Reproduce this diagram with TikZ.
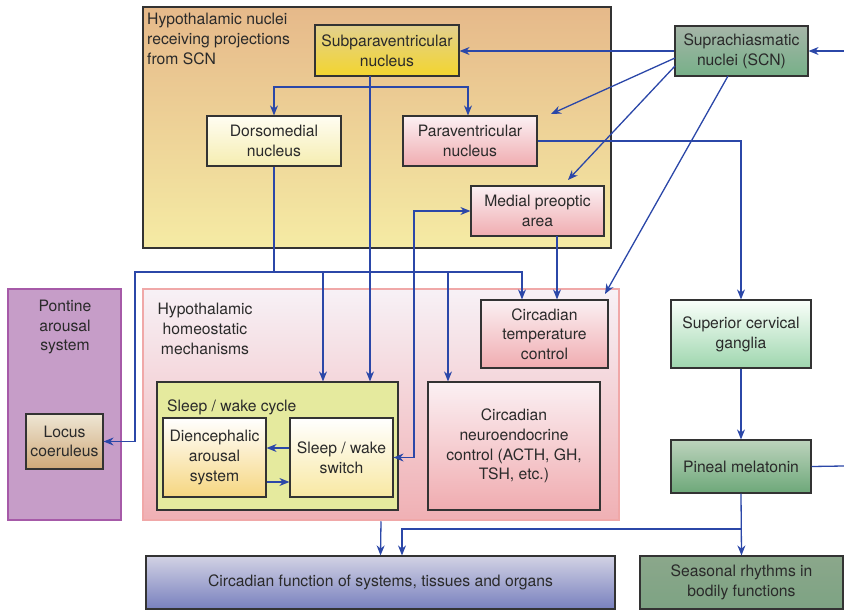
\documentclass[tikz,border=0pt]{standalone}
\usepackage{fontspec}
\setmainfont{TeX Gyre Heros}
\usetikzlibrary{arrows.meta}
\definecolor{txt}{HTML}{2A2A2A}
\definecolor{boxline}{HTML}{333333}
\definecolor{conn}{HTML}{2B47A8}
\definecolor{hypT}{HTML}{E6B98A}
\definecolor{hypB}{HTML}{F5EBA4}
\definecolor{spvT}{HTML}{E2D08E}
\definecolor{spvB}{HTML}{F3D52E}
\definecolor{dmnT}{HTML}{FFFDF2}
\definecolor{dmnB}{HTML}{F5EDB0}
\definecolor{pinkT}{HTML}{FBF0F3}
\definecolor{pinkB}{HTML}{F0ACB0}
\definecolor{scnT}{HTML}{A6B5A8}
\definecolor{scnB}{HTML}{76B088}
\definecolor{scgT}{HTML}{FAFFFA}
\definecolor{scgB}{HTML}{9ED6AE}
\definecolor{pinT}{HTML}{BDD3BD}
\definecolor{pinB}{HTML}{6DA879}
\definecolor{seaT}{HTML}{8BA78B}
\definecolor{seaB}{HTML}{7DA383}
\definecolor{cfT}{HTML}{D2D2E4}
\definecolor{cfB}{HTML}{7880BE}
\definecolor{lcT}{HTML}{EEE6D4}
\definecolor{lcB}{HTML}{CFA878}
\definecolor{dienB}{HTML}{F6D680}
\definecolor{swsB}{HTML}{F8E8A2}
\definecolor{swcF}{HTML}{E5EA9E}
\definecolor{pontF}{HTML}{C69DC8}
\definecolor{pontL}{HTML}{A65AA8}
\definecolor{homL}{HTML}{F0A8A8}
\definecolor{homT}{HTML}{F7F1F6}
\definecolor{homM}{HTML}{F6EAF0}
\definecolor{homB}{HTML}{F0B0B4}
\begin{document}
\begin{tikzpicture}[x=1pt,y=-1pt,
  font=\fontsize{15.7}{19.7}\selectfont,
  box/.style={draw=boxline, line width=1.2pt, text=txt, align=center, inner sep=0pt},
  lab/.style={text=txt, inner sep=0pt},
  arr/.style={draw=conn, line width=1.3pt, -{Stealth[length=10pt,width=8pt]}},
  arrboth/.style={draw=conn, line width=1.3pt, {Stealth[length=10pt,width=8pt]}-{Stealth[length=10pt,width=8pt]}},
  plain/.style={draw=conn, line width=1.3pt}]
\useasboundingbox (0,0) rectangle (844,610);

% containers
\node[box, minimum width=468pt, minimum height=241pt, top color=hypT, bottom color=hypB] (hyp) at (377,127.5) {};
\node[lab, anchor=north west, align=left] (hyplab) at (147,13) {Hypothalamic nuclei\\receiving projections\\from SCN};
\node[box, draw=pontL, line width=2.5pt, fill=pontF, minimum width=113pt, minimum height=231pt] (pont) at (64.5,404.5) {};
\node[lab, align=center] (pontlab) at (65,327) {Pontine\\arousal\\system};
\node[box, draw=homL, line width=2.5pt, top color=homT, middle color=homM, bottom color=homB, minimum width=476pt, minimum height=231pt] (hom) at (381,404.5) {};
\node[lab, align=center] (homlab) at (205,329) {Hypothalamic\\homeostatic\\mechanisms};
\node[box, fill=swcF, minimum width=241pt, minimum height=128pt] (swc) at (277.5,446) {};
\node[lab, anchor=west] (swclab) at (167,407) {Sleep / wake cycle};

% nodes
\node[box, minimum width=144pt, minimum height=51pt, top color=spvT, bottom color=spvB] (spv) at (387,50.5) {Subparaventricular\\nucleus};
\node[box, minimum width=134pt, minimum height=50pt, top color=dmnT, bottom color=dmnB] (dmn) at (274,141) {Dorsomedial\\nucleus};
\node[box, minimum width=134pt, minimum height=50pt, top color=pinkT, bottom color=pinkB] (pvn) at (470,141) {Paraventricular\\nucleus};
\node[box, minimum width=133pt, minimum height=50pt, top color=pinkT, bottom color=pinkB] (mpa) at (537.5,211) {Medial preoptic\\area};
\node[box, minimum width=133pt, minimum height=50pt, top color=scnT, bottom color=scnB] (scn) at (741.5,51) {Suprachiasmatic\\nuclei (SCN)};
\node[box, minimum width=77pt, minimum height=55pt, top color=lcT, bottom color=lcB] (lc) at (64.5,441.5) {Locus\\coeruleus};
\node[box, minimum width=103pt, minimum height=79pt, top color=white, bottom color=dienB] (dien) at (214.5,457.5) {Diencephalic\\arousal\\system};
\node[box, minimum width=103pt, minimum height=79pt, top color=white, bottom color=swsB] (sws) at (341.5,457.5) {Sleep / wake\\switch};
\node[box, minimum width=127pt, minimum height=68pt, top color=pinkT, bottom color=pinkB] (ctc) at (544.5,334) {Circadian\\temperature\\control};
\node[box, minimum width=172pt, minimum height=128pt, top color=pinkT, bottom color=pinkB] (cnc) at (514,446) {Circadian\\neuroendocrine\\control (ACTH, GH,\\TSH, etc.)};
\node[box, minimum width=140pt, minimum height=68pt, top color=scgT, bottom color=scgB] (scg) at (741,334) {Superior cervical\\ganglia};
\node[box, minimum width=140pt, minimum height=53pt, top color=pinT, bottom color=pinB] (pin) at (741,466.5) {Pineal melatonin};
\node[box, minimum width=469pt, minimum height=53pt, top color=cfT, bottom color=cfB] (cf) at (380.5,582.5) {Circadian function of systems, tissues and organs};
\node[box, minimum width=203pt, minimum height=53pt, top color=seaT, bottom color=seaB] (sea) at (741.5,582.5) {Seasonal rhythms in\\bodily functions};

% coordinates
\coordinate (in) at (844,51);
\coordinate (out) at (844,466);
\coordinate (s2) at (675,58);
\coordinate (t2) at (551,114);
\coordinate (s3) at (675,66);
\coordinate (t3) at (568,180);
\coordinate (s4) at (728,76);
\coordinate (t4) at (605,294);
\coordinate (a1) at (370,76);
\coordinate (b1) at (370,87);
\coordinate (c1) at (274,272);
\coordinate (c2) at (135,272);
\coordinate (d1) at (323,272);
\coordinate (d2) at (448,272);
\coordinate (k1) at (414,211);
\coordinate (m1) at (557,236);
\coordinate (p1) at (741,529);

% connectors
\draw[arr] (in) -- (scn.east);
\draw[arr] (scn.west) -- (spv.east |- scn.west);
\draw[arr] (s2) -- (t2);
\draw[arr] (s3) -- (t3);
\draw[arr] (s4) -- (t4);
\draw[arr] (pvn.east) -| (scg.north);
\draw[arr] (scg.south) -- (pin.north);
\draw[plain] (pin.east) -- (out);
\draw[arr] (pin.south) -- (sea.north);
\draw[arr] (p1) -| ([xshift=21.5pt]cf.north);
\draw[arr] (hom.south) -- (cf.north);
\draw[arr] (a1) -- (a1 |- swc.north);
\draw[arr] (b1) -| (dmn.north);
\draw[arr] (b1) -| ([xshift=-2pt]pvn.north);
\draw[plain] (dmn.south) -- (c1);
\draw[arr] (c1) -| ([xshift=-22.5pt]ctc.north);
\draw[arr] (c1) -- (c2) |- (lc.east);
\draw[arr] (d1) -- (d1 |- swc.north);
\draw[arr] (d2) -- (d2 |- cnc.north);
\draw[arrboth] (sws.east) -| (k1) -- (mpa.west);
\draw[arr] (m1) -- (m1 |- ctc.north);
\draw[arr] ([yshift=9.5pt]sws.west) -- ([yshift=9.5pt]dien.east);
\draw[arr] ([yshift=-24.5pt]dien.east) -- ([yshift=-24.5pt]sws.west);
\end{tikzpicture}
\end{document}
